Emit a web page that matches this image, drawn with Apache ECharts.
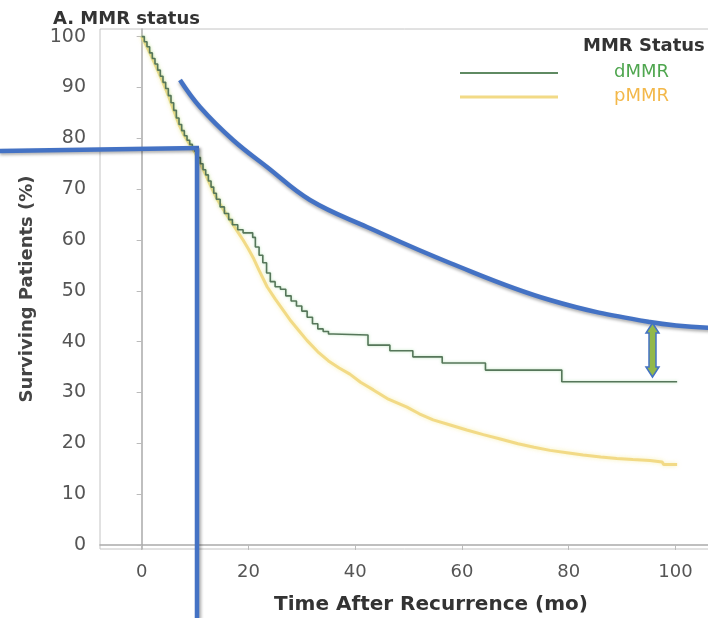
<!DOCTYPE html>
<html>
<head>
<meta charset="utf-8">
<script src="https://cdn.jsdelivr.net/npm/echarts@6/dist/echarts.min.js"></script>
<style>
html,body{margin:0;padding:0;background:#fff;}
#chart{width:708px;height:618px;}
</style>
</head>
<body>
<div id="chart"></div>
<script>
// ---- data ----
const xTicks = [0, 20, 40, 60, 80, 100];
const yTicks = [0, 10, 20, 30, 40, 50, 60, 70, 80, 90, 100];
const seriesNames = ['dMMR', 'pMMR'];
const dMMR = [
  [0,100],[0.5,99],[1,98],[1.5,96.8],[2,95.7],[2.5,94.6],[3,93.4],[3.5,92.2],[4,91],[4.5,89.8],
  [5,88.4],[5.5,87],[6,85.5],[6.5,84],[7,82.7],[7.5,81.5],[8,80.5],[8.5,79.6],[9,78.8],[9.5,78.2],
  [10,77.4],[10.5,76.2],[11,75],[11.5,73.8],[12,72.8],[12.5,71.6],[13,70.4],[13.5,69.2],[14,68],
  [14.7,66.5],[15.5,65.2],[16.3,64],[17,63],[18,62],[19,61.4],[20.8,60.5],[21.3,58.6],[22,57],
  [22.7,55.5],[23.4,53.5],[24.1,51.8],[25,50.8],[26,50.3],[27,49],[28,48],[29,47],[30,46],
  [31,44.8],[32,43.5],[33,42.5],[34,42],[35,41.5],[35.9,41.3],[42.4,39.3],[46.5,38.2],
  [50.8,37],[56.3,35.8],[64.4,34.4],[78.7,32.1],[100.3,32.1]
];
const pMMR = [
  [0,100],[1,98],[2,95.7],[3,93.4],[4,91],[5,88.4],[6,85.5],[7,82.7],[8,80.5],[9,78.8],
  [10,77.2],[11,75],[12,72.8],[13,70.5],[14,68.3],[15,66.5],[16,64.8],[17,63.2],[18,61.6],
  [19,60],[20,58.2],[21,56.3],[22,54],[23.5,50.8],[25,48.4],[26.5,46.2],[28,44],[29.5,42.1],
  [31,40.2],[33,38],[35,36.2],[37,34.8],[39,33.6],[41,32],[43.4,30.5],[46,28.8],[49.7,27.1],
  [52,25.8],[54.6,24.6],[57.8,23.6],[60.9,22.6],[64,21.7],[67,20.9],[70.5,19.9],[73.5,19.2],
  [76.5,18.6],[80,18.1],[82.7,17.7],[86,17.3],[89,17],[92,16.8],[95.2,16.6],[97.5,16.3],
  [97.8,15.8],[100.3,15.8]
];

const FONT = 'DejaVu Sans';
const chart = echarts.init(document.getElementById('chart'));
chart.setOption({
  animation: false,
  backgroundColor: '#fff',
  title: {
    text: 'A. MMR status', left: 48, top: 5,
    textStyle: {fontFamily: FONT, fontSize: 18, fontWeight: 'bold', color: '#333'}
  },
  grid: {left: 100, top: 29, width: 662, height: 520, show: true, borderColor: '#c4c4c4', borderWidth: 1,
         outerBoundsMode: 'none', containLabel: false},
  xAxis: {
    type: 'value', min: -7.8, max: 116.2,
    name: 'Time After Recurrence (mo)', nameLocation: 'middle', nameGap: 46,
    nameTextStyle: {fontFamily: FONT, fontSize: 20, fontWeight: 'bold', color: '#333'},
    axisLine: {show: true, lineStyle: {color: '#aaa', width: 1.5}},
    axisTick: {show: true, customValues: xTicks, length: 5, lineStyle: {color: '#bbb'}},
    axisLabel: {customValues: xTicks, fontFamily: FONT, fontSize: 18, color: '#555', margin: 14},
    splitLine: {show: false}
  },
  yAxis: {
    type: 'value', min: -0.8, max: 101.5,
    name: 'Surviving Patients (%)', nameLocation: 'middle', nameGap: 64,
    nameTextStyle: {fontFamily: FONT, fontSize: 18, fontWeight: 'bold', color: '#444'},
    axisLine: {show: true, lineStyle: {color: '#aaa', width: 1.5}},
    axisTick: {show: true, customValues: yTicks, length: 5, lineStyle: {color: '#bbb'}},
    axisLabel: {customValues: yTicks, fontFamily: FONT, fontSize: 19, color: '#555', margin: 14},
    splitLine: {show: false}
  },
  series: [
    {
      name: seriesNames[1], type: 'line', data: pMMR, showSymbol: false, z: 2,
      lineStyle: {color: '#f2da86', width: 3, shadowColor: 'rgba(245,235,150,0.7)', shadowBlur: 4}
    },
    {
      name: seriesNames[0], type: 'line', data: dMMR, step: 'end', showSymbol: false, z: 3,
      lineStyle: {color: '#56765a', width: 1.6, shadowColor: 'rgba(140,210,140,0.6)', shadowBlur: 3}
    }
  ],
  graphic: [
    // legend
    {type: 'text', left: 583, top: 37, style: {text: 'MMR Status', fontFamily: FONT, fontSize: 18, fontWeight: 'bold', fill: '#333'}},
    {type: 'line', shape: {x1: 460, y1: 73, x2: 558, y2: 73}, style: {stroke: '#5f8a62', lineWidth: 2}},
    {type: 'line', shape: {x1: 460, y1: 97, x2: 558, y2: 97}, style: {stroke: '#f2da86', lineWidth: 3}},
    {type: 'text', left: 614, top: 63, style: {text: seriesNames[0], fontFamily: FONT, fontSize: 18, fill: '#4fa64f'}},
    {type: 'text', left: 614, top: 87, style: {text: seriesNames[1], fontFamily: FONT, fontSize: 18, fill: '#f3b84a'}},
    // annotations
    {type: 'polyline', z: 100, shape: {points: [[0,151],[199,148]]},
      style: {stroke: '#4472c4', lineWidth: 4.5, shadowColor: 'rgba(0,0,0,0.3)', shadowBlur: 3, shadowOffsetY: 2}},
    {type: 'polyline', z: 100, shape: {points: [[197,148],[197,620]]},
      style: {stroke: '#4472c4', lineWidth: 4.5, shadowColor: 'rgba(0,0,0,0.3)', shadowBlur: 3, shadowOffsetX: 2}},
    {type: 'polyline', z: 100, shape: {smooth: 0.4, points: [[180,80],[200,107],[233,140],[267,167],[310,200],[367,227],[450,263],[550,300],[650,322],[712,328]]},
      style: {stroke: '#4472c4', lineWidth: 4.5, fill: null, shadowColor: 'rgba(0,0,0,0.3)', shadowBlur: 3, shadowOffsetY: 2}},
    {type: 'polygon', z: 100, shape: {points: [[652.5,323],[659,333],[656,333],[656,367],[659,367],[652.5,377],[646,367],[649,367],[649,333],[646,333]]},
      style: {fill: '#92b84a', stroke: '#4472c4', lineWidth: 1.5}}
  ]
});
</script>
</body>
</html>
